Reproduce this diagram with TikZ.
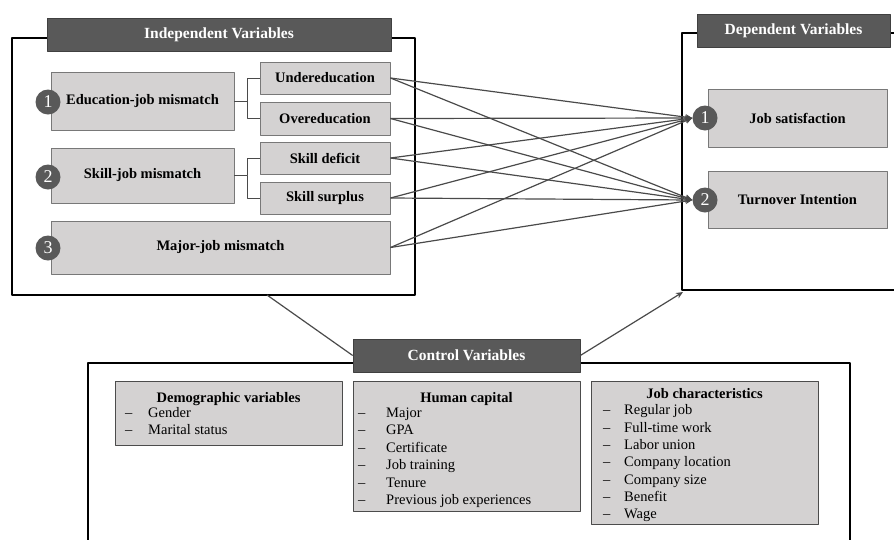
\documentclass[tikz,border=0pt]{standalone}
\usepackage{fontspec}
\setmainfont{Liberation Serif}
\usetikzlibrary{arrows.meta}
\definecolor{barfill}{HTML}{595959}
\definecolor{boxfill}{HTML}{D4D2D2}
\definecolor{boxline}{HTML}{787878}
\definecolor{linkgray}{HTML}{4A4A4A}
\tikzset{
	framebox/.style={line width=2.2pt},
	titlebar/.style={draw=black!75, fill=barfill, text=white, line width=0.6pt, inner sep=0pt, font=\fontsize{15.5}{18}\selectfont\bfseries},
	varbox/.style={draw=boxline, fill=boxfill, line width=0.9pt, inner sep=0pt, font=\fontsize{14.5}{17}\selectfont\bfseries},
	listbox/.style={draw=black!70, fill=boxfill, line width=0.9pt, inner sep=0pt},
	numdot/.style={circle, fill=barfill, text=white, minimum size=25pt, inner sep=0pt, font=\fontsize{18}{18}\selectfont},
	link/.style={draw=linkgray, line width=1.2pt},
	listhead/.style={anchor=base, inner sep=0pt, font=\fontsize{14.5}{17}\selectfont\bfseries},
	listitem/.style={anchor=base west, inner sep=0pt, font=\fontsize{14.5}{17}\selectfont}
}
\begin{document}
\begin{tikzpicture}[x=1pt, y=-1pt, line join=round, >={Stealth[length=7pt,width=6pt]}]
	\useasboundingbox (0,0) rectangle (894,539);
	% frames
	\draw[framebox] (12,38) rectangle (415,295);
	\draw[framebox] (896,33) -- (682,33) -- (682,290) -- (896,290);
	\draw[framebox] (88,545) -- (88,363) -- (850,363) -- (850,545);
	\coordinate (indbot) at (267,295);
	\coordinate (depbot) at (683,292);

	% independent variables
	\path
	(219,34.5) node[titlebar, minimum width=344, minimum height=33] (indtitle) {Independent Variables}
	(142.5,101) node[varbox, minimum width=183, minimum height=58] (edujob) {Education-job mismatch}
	(142.5,175.5) node[varbox, minimum width=183, minimum height=55] (skilljob) {Skill-job mismatch}
	(220.5,247.5) node[varbox, minimum width=339, minimum height=53] (majorjob) {Major-job mismatch}
	(325,78) node[varbox, minimum width=130, minimum height=32] (undered) {Undereducation}
	(325,118.5) node[varbox, minimum width=130, minimum height=33] (overed) {Overeducation}
	(325,158) node[varbox, minimum width=130, minimum height=32] (skdef) {Skill deficit}
	(325,198) node[varbox, minimum width=130, minimum height=32] (sksur) {Skill surplus}
	(48,102) node[numdot] (n1) {1}
	(48,177) node[numdot] (n2) {2}
	(48,248) node[numdot] (n3) {3};

	\draw[linkgray, line width=0.9pt] (edujob.east) -- ++(13,0) coordinate (br1) |- (undered.west);
	\draw[linkgray, line width=0.9pt] (br1) |- (overed.west);
	\draw[linkgray, line width=0.9pt] (skilljob.east) -- ++(13,0) coordinate (br2) |- (skdef.west);
	\draw[linkgray, line width=0.9pt] (br2) |- (sksur.west);

	% dependent variables
	\path
	(793.5,30.5) node[titlebar, minimum width=193, minimum height=33] (deptitle) {Dependent Variables}
	(797.5,118) node[varbox, minimum width=179, minimum height=58] (jobsat) {Job satisfaction}
	(797.5,199.5) node[varbox, minimum width=179, minimum height=57] (turnover) {Turnover Intention}
	(705,118) node[numdot] (d1) {1}
	(705,200) node[numdot] (d2) {2};

	\foreach \src in {undered, overed, skdef, sksur, majorjob} {
		\draw[link, ->] (\src.east) -- (d1.west);
		\draw[link, ->] (\src.east) -- (d2.west);
	}

	% control variables
	\path
	(466.5,355.5) node[titlebar, minimum width=227, minimum height=33] (ctrltitle) {Control Variables}
	(228.5,413) node[listbox, minimum width=227, minimum height=64] (demo) {}
	(466.5,446) node[listbox, minimum width=227, minimum height=130] (human) {}
	(704.5,452.5) node[listbox, minimum width=227, minimum height=143] (jobchar) {};

	\draw[link] (indbot) -- (ctrltitle.west);
	\draw[link, ->] (ctrltitle.east) -- (depbot);

	\node[listhead] (demohead) at (228.5,402) {Demographic variables};
	\node[listhead] (humanhead) at (466.5,402) {Human capital};
	\node[listhead] (jobhead) at (704.5,398) {Job characteristics};
	\foreach \t [count=\i] in {Gender, Marital status} {
		\node[listitem] (demodash\i) at (125,{400+\i*17.4}) {--};
		\node[listitem] (demoitem\i) at (148,{400+\i*17.4}) {\t};
	}
	\foreach \t [count=\i] in {Major, GPA, Certificate, Job training, Tenure, Previous job experiences} {
		\node[listitem] (humandash\i) at (358,{400+\i*17.4}) {--};
		\node[listitem] (humanitem\i) at (386,{400+\i*17.4}) {\t};
	}
	\foreach \t [count=\i] in {Regular job, Full-time work, Labor union, Company location, Company size, Benefit, Wage} {
		\node[listitem] (jobdash\i) at (603,{397.5+\i*17.3}) {--};
		\node[listitem] (jobitem\i) at (624,{397.5+\i*17.3}) {\t};
	}
\end{tikzpicture}
\end{document}
